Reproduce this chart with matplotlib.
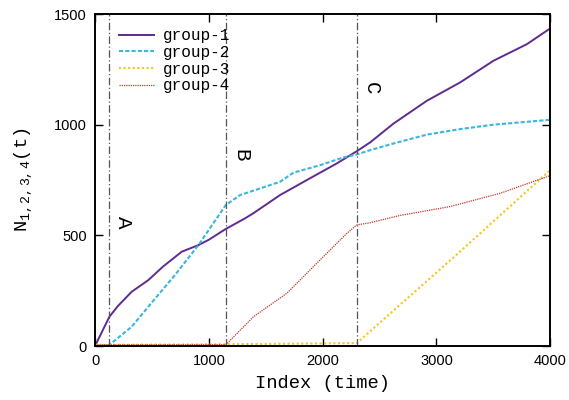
import matplotlib
matplotlib.use("Agg")
import matplotlib.pyplot as plt

# --- data ---
g1_x = [0, 126, 200, 322, 469, 600, 762, 909, 1000, 1143, 1319, 1392, 1626, 1890, 2125,
        2300, 2418, 2623, 2916, 3209, 3502, 3796, 4000]
g1_y = [0, 132, 180, 245, 298, 360, 426, 456, 480, 527, 577, 600, 682, 758, 825,
        880, 920, 1005, 1108, 1191, 1289, 1364, 1435]

g2_x = [0, 126, 322, 469, 703, 909, 1149, 1275, 1451, 1626, 1743, 1978, 2183, 2300,
        2418, 2623, 2916, 3209, 3502, 3796, 4000]
g2_y = [0, 5, 87, 178, 321, 456, 637, 682, 712, 742, 783, 817, 852, 865,
        885, 915, 955, 980, 1000, 1013, 1022]

g3_x = [0, 1150, 2300, 3150, 4000]
g3_y = [5, 8, 13, 400, 795]

g4_x = [0, 1150, 1392, 1685, 1978, 2213, 2300, 2418, 2681, 3121, 3560, 4000]
g4_y = [5, 6, 132, 238, 389, 509, 547, 557, 590, 630, 690, 770]

events = [125, 1150, 2300]
event_labels = ["A", "B", "C"]
event_label_y = [560, 860, 1165]

mono = "Liberation Mono"
sans = "Liberation Sans"
plt.rcParams["mathtext.fontset"] = "custom"
plt.rcParams["mathtext.rm"] = mono
plt.rcParams["mathtext.it"] = mono

fig = plt.figure(figsize=(5.69, 4.0), dpi=100)
ax = fig.add_axes([0.167, 0.135, 0.80, 0.83])

ax.plot(g1_x, g1_y, color="#5f2b8f", lw=1.4, ls="-", label="group-1")
ax.plot(g2_x, g2_y, color="#39b5e0", lw=1.5, ls=(0, (2, 1)), label="group-2")
ax.plot(g3_x, g3_y, color="#f5c518", lw=1.5, ls=(0, (1, 1.2)), label="group-3")
ax.plot(g4_x, g4_y, color="#c0392b", lw=0.9, ls=(0, (1, 0.8)), label="group-4")

for xv, lab, yv in zip(events, event_labels, event_label_y):
    ax.axvline(xv, color="#555555", lw=0.9, ls=(0, (6, 2, 1, 2)))
    ax.text(xv + 45, yv, lab, rotation=-90, family=mono, fontsize=15,
            ha="left", va="center")

ax.set_xlim(0, 4000)
ax.set_ylim(0, 1500)
ax.set_xticks([0, 1000, 2000, 3000, 4000])
ax.set_yticks([0, 500, 1000, 1500])
ax.tick_params(direction="in", length=6, width=1.0, top=True, right=True,
               labelsize=10.5, pad=6)
for lbl in ax.get_xticklabels() + ax.get_yticklabels():
    lbl.set_family(sans)
for sp in ax.spines.values():
    sp.set_linewidth(1.4)

ax.set_xlabel("Index (time)", family=mono, fontsize=13.5, labelpad=5)
ax.set_ylabel(r"N$_{1,2,3,4}$(t)", family=mono, fontsize=13.5, labelpad=14)

leg = ax.legend(loc="upper left", frameon=False, prop={"family": mono, "size": 11.5},
                handlelength=2.2, handletextpad=0.6, labelspacing=0.1,
                borderaxespad=0.5, bbox_to_anchor=(0.02, 1.0))

fig.savefig("out.png", dpi=100)
